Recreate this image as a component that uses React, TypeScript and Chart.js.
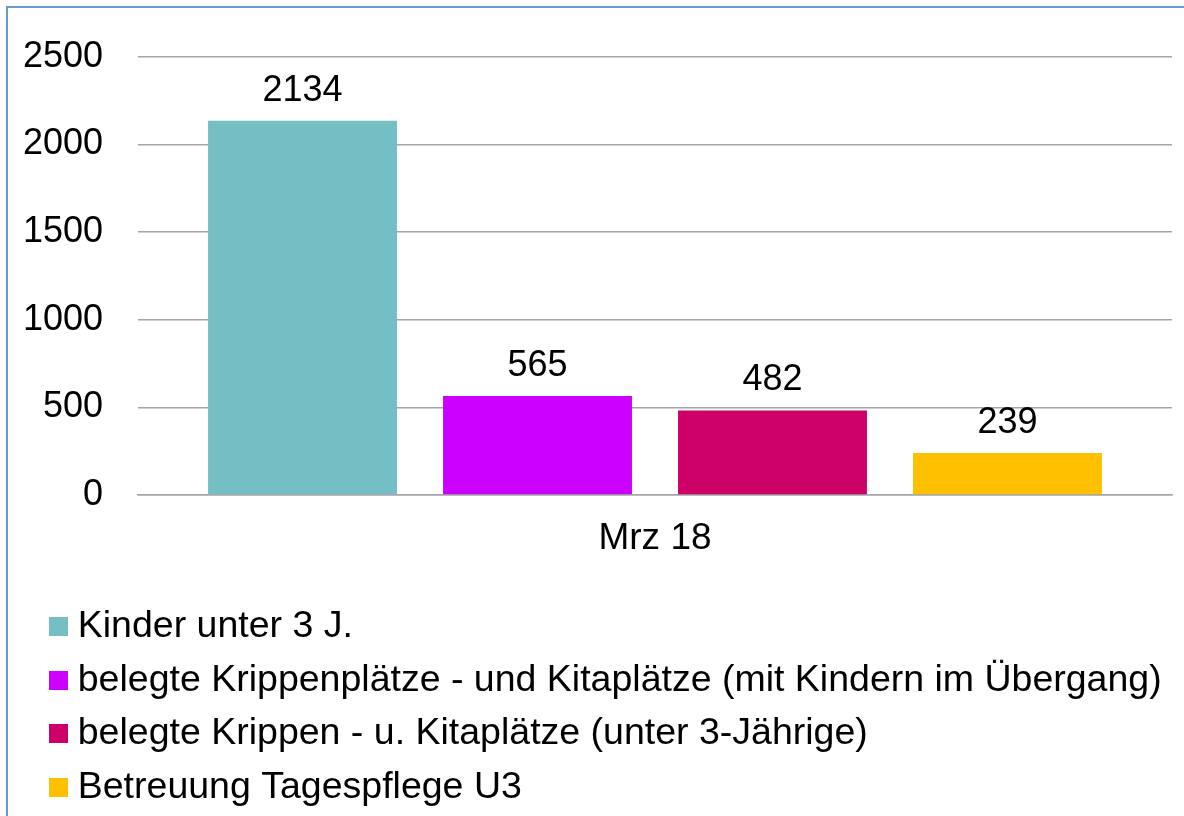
import React, { useEffect, useRef } from "react";
import { Chart, registerables } from "chart.js";

Chart.register(...registerables);

const categories = ["Mrz 18"];
const seriesLabels = [
  "Kinder unter 3 J.",
  "belegte Krippenplätze - und Kitaplätze (mit Kindern im Übergang)",
  "belegte Krippen - u. Kitaplätze (unter 3-Jährige)",
  "Betreuung Tagespflege U3",
];
const seriesValues = [[2134], [565], [482], [239]];
const seriesColors = ["#74BFC4", "#CC00FF", "#CC0066", "#FFC000"];
const yTicks = [0, 500, 1000, 1500, 2000, 2500];

const FONT = "'Liberation Sans', Arial, sans-serif";

function swatch(color: string): HTMLCanvasElement {
  const c = document.createElement("canvas");
  c.width = 19;
  c.height = 19;
  const g = c.getContext("2d")!;
  g.fillStyle = color;
  g.fillRect(0, 0, 19, 19);
  return c;
}

const dataLabelPlugin = {
  id: "dataLabels",
  afterLayout(chart: any) {
    if (chart.legend) chart.legend.left = 42;
  },
  afterDatasetsDraw(chart: any) {
    const ctx = chart.ctx;
    ctx.save();
    ctx.font = `36px ${FONT}`;
    ctx.fillStyle = "#000";
    ctx.textAlign = "center";
    ctx.textBaseline = "middle";
    chart.data.datasets.forEach((ds: any, i: number) => {
      const meta = chart.getDatasetMeta(i);
      meta.data.forEach((bar: any, j: number) => {
        ctx.fillText(String(ds.data[j]), bar.x, bar.y - 30);
      });
    });
    ctx.restore();
  },
};

export default function App() {
  const ref = useRef<HTMLCanvasElement | null>(null);
  useEffect(() => {
    if (!ref.current) return;
    const swatches = seriesColors.map(swatch);
    const chart = new Chart(ref.current, {
      type: "bar",
      data: {
        labels: categories,
        datasets: seriesLabels.map((label, i) => ({
          label,
          data: seriesValues[i],
          backgroundColor: seriesColors[i],
          borderWidth: 0,
          categoryPercentage: 0.909,
          barPercentage: 0.804,
        })),
      },
      options: {
        animation: false,
        responsive: false,
        maintainAspectRatio: false,
        layout: { padding: { left: 0, right: 12, top: 55, bottom: 0 } },
        plugins: {
          tooltip: { enabled: false },
          title: { display: false },
          legend: {
            display: true,
            position: "bottom",
            align: "start",
            labels: {
              usePointStyle: true,
              pointStyleWidth: 1,
              boxHeight: 19,
              padding: 16,
              color: "#000",
              font: { family: FONT, size: 37.5 },
              generateLabels(chart: any) {
                const items = Chart.defaults.plugins.legend.labels.generateLabels(chart);
                items.forEach((it: any, i: number) => {
                  it.pointStyle = swatches[i];
                  it.lineWidth = 0;
                });
                return items;
              },
            },
          },
        },
        scales: {
          x: {
            grid: { display: false, drawTicks: false },
            border: { display: true, color: "#A6A6A6", width: 1.5 },
            ticks: { color: "#000", padding: 22, font: { family: FONT, size: 37 } },
            afterFit(scale: any) {
              scale.height = 97;
            },
          },
          y: {
            min: 0,
            max: 2500,
            afterBuildTicks(scale: any) {
              scale.ticks = yTicks.map((v) => ({ value: v }));
            },
            grid: { color: "#A6A6A6", lineWidth: 1.5, drawTicks: false },
            border: { display: false },
            ticks: {
              color: "#000",
              padding: 35,
              font: { family: FONT, size: 36 },
              callback: (v: any) => String(v),
            },
            afterFit(scale: any) {
              scale.width = 138;
            },
          },
        },
      },
      plugins: [dataLabelPlugin],
    });
    return () => chart.destroy();
  }, []);

  return (
    <div>
      <div
        style={{
          position: "fixed",
          left: 6,
          top: 6,
          width: 1200,
          height: 830,
          borderLeft: "2px solid #6A98D0",
          borderTop: "2px solid #6A98D0",
          boxSizing: "border-box",
        }}
      />
      <canvas
        ref={ref}
        width={1184}
        height={816}
        style={{ position: "fixed", left: 0, top: 0, width: 1184, height: 816 }}
      />
    </div>
  );
}
